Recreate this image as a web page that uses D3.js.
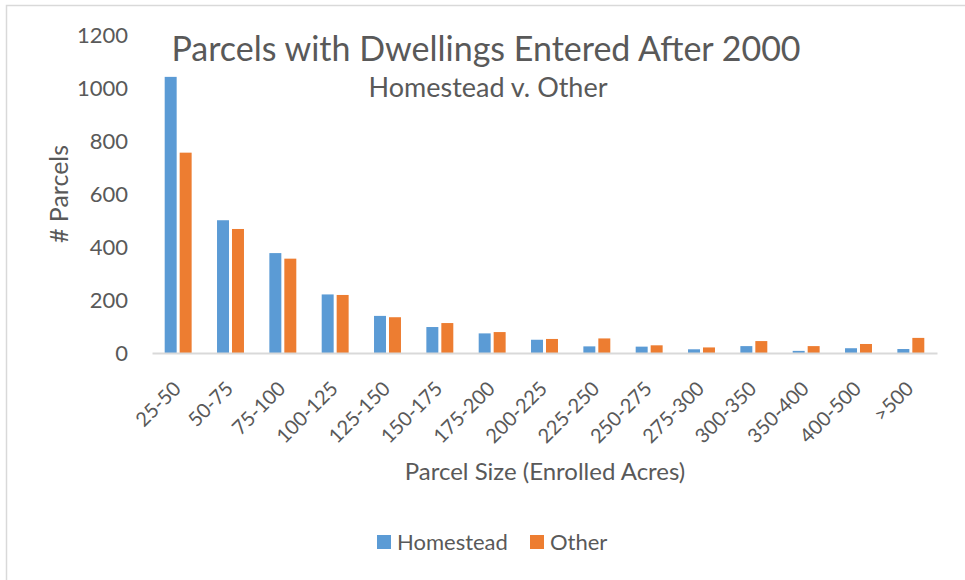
<!DOCTYPE html>
<html lang="en">
  <head>
    <meta charset="utf-8">
    <title>Parcels with Dwellings Entered After 2000</title>
    <script src="https://d3js.org/d3.v7.min.js"></script>
    <style>
      body { margin: 0; background: #fff; }
      text { font-family: Lato, "Open Sans", sans-serif; fill: #595959; }
    </style>
  </head>
  <body>
    <div id="chart"></div>
    <script>
    // values
    const sizeClasses = ["25-50", "50-75", "75-100", "100-125", "125-150", "150-175", "175-200",
                         "200-225", "225-250", "250-275", "275-300", "300-350", "350-400", "400-500", ">500"];
    const homestead = [1042, 501, 377, 221, 140, 98, 74, 50, 25, 24, 14, 26, 8, 18, 15];
    const other     = [756, 468, 356, 219, 135, 113, 79, 53, 55, 29, 21, 45, 26, 34, 57];
    const seriesNames = ["Homestead", "Other"];
    const yTicks = [0, 200, 400, 600, 800, 1000, 1200];

    const colors = { Homestead: "#5B9BD5", Other: "#ED7D31" };

    const W = 965, H = 580;
    const margin = {top: 35, right: 28, bottom: 227, left: 152},
        width = W - margin.left - margin.right,
        height = H - margin.top - margin.bottom;

    const svg = d3.select("#chart")
      .append("svg")
        .attr("width", W)
        .attr("height", H);

    // chart border
    svg.append("rect")
      .attr("x", 6.5).attr("y", 5.5)
      .attr("width", W).attr("height", H)
      .attr("fill", "none")
      .attr("stroke", "#D9D9D9")
      .attr("stroke-width", 1.5);

    const g = svg.append("g")
      .attr("transform", `translate(${margin.left}, ${margin.top})`);

    const x0 = d3.scaleBand()
      .domain(sizeClasses)
      .range([0, width])
      .paddingInner(0.485)
      .paddingOuter(0.2425);

    const x1 = d3.scaleBand()
      .domain(seriesNames)
      .range([0, x0.bandwidth()])
      .paddingInner(0.2);

    const y = d3.scaleLinear()
      .domain([0, 1200])
      .range([height, 0]);

    // bars
    const rows = sizeClasses.map((c, i) => ({ cls: c, Homestead: homestead[i], Other: other[i] }));

    g.append("g")
      .selectAll("g")
      .data(rows)
      .join("g")
        .attr("transform", d => `translate(${x0(d.cls)}, 0)`)
      .selectAll("rect")
      .data(d => seriesNames.map(s => ({ key: s, value: d[s] })))
      .join("rect")
        .attr("x", d => x1(d.key))
        .attr("y", d => y(d.value))
        .attr("width", x1.bandwidth())
        .attr("height", d => height - y(d.value))
        .attr("fill", d => colors[d.key]);

    // y axis (labels only)
    const yAxis = g.append("g")
      .call(d3.axisLeft(y).tickValues(yTicks).tickFormat(d3.format("d")).tickSize(0).tickPadding(24));
    yAxis.select(".domain").remove();
    yAxis.selectAll("text")
      .style("font-size", "22px")
      .style("font-family", "Lato, sans-serif")
      .attr("fill", "#595959");

    // x axis
    const xAxis = g.append("g")
      .attr("transform", `translate(0, ${height})`)
      .call(d3.axisBottom(x0).tickSize(0));
    xAxis.select(".domain")
      .attr("stroke", "#D9D9D9")
      .attr("stroke-width", 2);
    xAxis.selectAll("text")
      .style("font-size", "20px")
      .style("font-family", "Lato, sans-serif")
      .attr("fill", "#595959")
      .style("text-anchor", "end")
      .attr("x", 0).attr("y", 0)
      .attr("dx", 0)
      .attr("dy", "0.35em")
      .attr("transform", "translate(-1, 32) rotate(-45)");

    // titles
    svg.append("text")
      .attr("x", 486).attr("y", 61)
      .attr("text-anchor", "middle")
      .style("font-size", "34px")
      .text("Parcels with Dwellings Entered After 2000");

    svg.append("text")
      .attr("x", 488).attr("y", 97)
      .attr("text-anchor", "middle")
      .style("font-size", "27px")
      .text("Homestead v. Other");

    svg.append("text")
      .attr("transform", "translate(68, 194) rotate(-90)")
      .attr("text-anchor", "middle")
      .style("font-size", "25px")
      .text("# Parcels");

    svg.append("text")
      .attr("x", 545).attr("y", 480)
      .attr("text-anchor", "middle")
      .style("font-size", "24px")
      .text("Parcel Size (Enrolled Acres)");

    // legend
    const legend = svg.append("g")
      .selectAll("g")
      .data(seriesNames)
      .join("g")
        .attr("transform", (d, i) => `translate(${[377, 530][i]}, 535)`);
    legend.append("rect")
      .attr("width", 14).attr("height", 14)
      .attr("fill", d => colors[d]);
    legend.append("text")
      .attr("x", 20).attr("y", 15)
      .style("font-size", "22px")
      .text(d => d);
    </script>
  </body>
</html>
